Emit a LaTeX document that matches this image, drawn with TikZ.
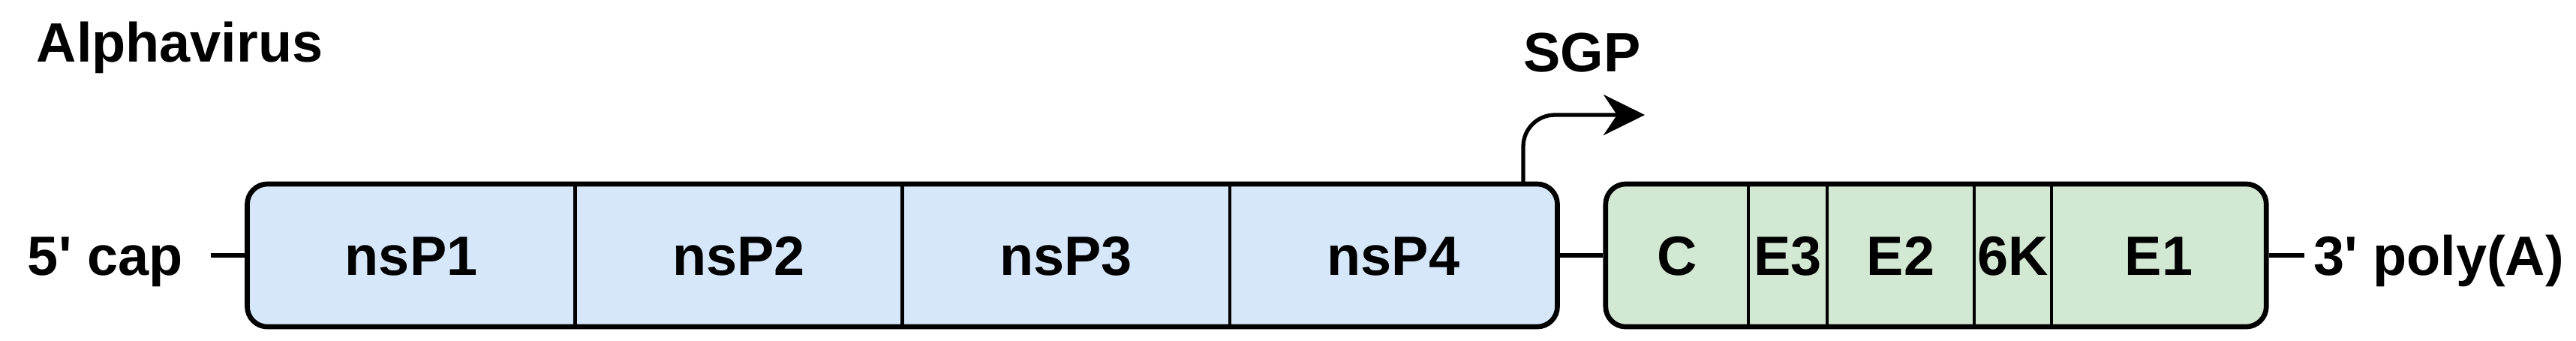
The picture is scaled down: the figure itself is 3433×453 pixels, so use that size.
\documentclass[tikz,border=0pt]{standalone}
\usepackage{fontspec}
\setmainfont{Liberation Sans}
\usetikzlibrary{positioning, arrows.meta}

\definecolor{nsblue}{HTML}{D6E7FA}
\definecolor{spgreen}{HTML}{D3E8D3}

\tikzset{
  txt/.style={font=\fontsize{21}{25}\selectfont\bfseries, text height=15pt, text depth=0pt},
  orf/.style={draw, line width=1.9pt, rounded corners=0.27cm, minimum height=1.9cm, inner sep=0pt},
  seg/.style={txt, minimum height=1.9cm, inner sep=0pt, outer sep=0pt},
  divider/.style={line width=1.3pt},
  link/.style={line width=1.5pt},
}

\begin{document}
\begin{tikzpicture}[x=0.01cm, y=-0.01cm]
\useasboundingbox (0,0) rectangle (3433,453);
\def\y{340}

\node[txt, anchor=base west, inner sep=0pt] (title) at (48,82) {Alphavirus};

% nonstructural ORF
\node[orf, fill=nsblue, minimum width=17.45cm] (ns) at (1202.5,\y) {};
\node[seg, minimum width=4.3625cm] (nsp1) at (548.1,\y) {nsP1};
\node[seg, minimum width=4.3625cm] (nsp2) at (984.4,\y) {nsP2};
\node[seg, minimum width=4.3625cm] (nsp3) at (1420.6,\y) {nsP3};
\node[seg, minimum width=4.3625cm] (nsp4) at (1856.9,\y) {nsP4};

% structural ORF
\node[orf, fill=spgreen, minimum width=8.8cm] (sp) at (2580,\y) {};
\node[seg, minimum width=1.9cm] (c) at (2235,\y) {C};
\node[seg, minimum width=1.05cm] (e3) at (2382.5,\y) {E3};
\node[seg, minimum width=1.96cm] (e2) at (2533,\y) {E2};
\node[seg, minimum width=1.03cm] (sixk) at (2682.5,\y) {6K};
\node[seg, minimum width=2.86cm] (e1) at (2877,\y) {E1};

\draw[divider] (nsp1.north east) -- (nsp1.south east);
\draw[divider] (nsp2.north east) -- (nsp2.south east);
\draw[divider] (nsp3.north east) -- (nsp3.south east);
\draw[divider] (c.north east) -- (c.south east);
\draw[divider] (e3.north east) -- (e3.south east);
\draw[divider] (e2.north east) -- (e2.south east);
\draw[divider] (sixk.north east) -- (sixk.south east);

% ends
\node[txt, left=0.45cm of ns, inner xsep=0.37cm] (cap) {5\textquotesingle{} cap};
\node[txt, right=0.47cm of sp, inner xsep=0.12cm] (polya) {3\textquotesingle{} poly(A)};
\draw[link] (cap) -- (ns);
\draw[link] (ns) -- (sp);
\draw[link] (sp) -- (polya);

% subgenomic promoter
\node[txt, anchor=base west, inner sep=0pt] (sgp) at (2030,95) {SGP};
\coordinate (sgpfoot) at (2030,245);
\coordinate (sgptip) at (2192,153);
\draw[link, rounded corners=0.42cm, -{Stealth[length=0.55cm, width=0.54cm, inset=0.18cm]}] (sgpfoot) |- (sgptip);

\end{tikzpicture}
\end{document}
